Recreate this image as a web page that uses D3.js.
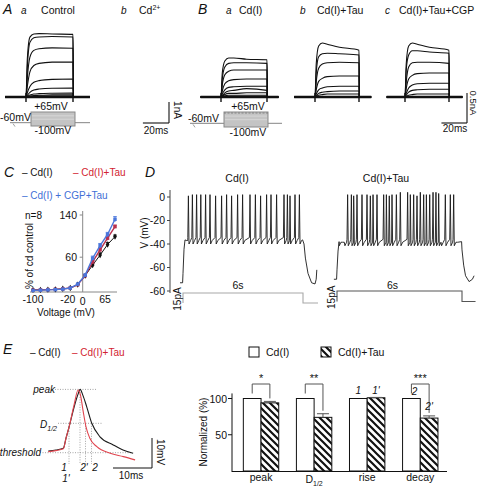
<!DOCTYPE html>
<html><head><meta charset="utf-8">
<script src="https://cdn.jsdelivr.net/npm/d3@7"></script>
<style>body{margin:0;background:#fff}svg{display:block}</style>
</head><body><svg id="fig" width="480" height="487"></svg>
<script>
// ================= DATA =================
// A/B: voltage-clamp current traces (nA), sampled at these times (ms) within the 36 ms step
const stepTimes = [0, 1, 3, 6, 10, 20, 36];
const stepEnd = 36;
const tracesA = [
  [0, 1.8, 2.85, 3.0, 3.02, 3.0, 2.98],
  [0, 1.4, 2.6, 2.82, 2.86, 2.88, 2.86],
  [0, 0.9, 1.9, 2.22, 2.3, 2.34, 2.32],
  [0, 0.5, 1.2, 1.5, 1.6, 1.66, 1.67],
  [0, 0.2, 0.5, 0.7, 0.78, 0.84, 0.86],
  [0, 0.08, 0.22, 0.33, 0.38, 0.42, 0.43],
  [0, 0.03, 0.09, 0.14, 0.16, 0.18, 0.19],
  [0, 0.01, 0.04, 0.07, 0.08, 0.1, 0.1],
  [0, 0, 0.02, 0.03, 0.04, 0.05, 0.05]
];
const tracesBa = [
  [0, 0.4, 0.6, 0.65, 0.65, 0.63, 0.62],
  [0, 0.3, 0.5, 0.56, 0.57, 0.57, 0.56],
  [0, 0.2, 0.37, 0.43, 0.45, 0.45, 0.45],
  [0, 0.1, 0.22, 0.27, 0.29, 0.3, 0.3],
  [0, 0.05, 0.12, 0.16, 0.17, 0.18, 0.18],
  [0, 0.02, 0.07, 0.1, 0.11, 0.14, 0.11],
  [0, 0.01, 0.04, 0.06, 0.06, 0.07, 0.07],
  [0, 0, 0.02, 0.03, 0.03, 0.03, 0.03]
];
const tracesBb = [
  [0, 0.55, 0.85, 0.9, 0.88, 0.83, 0.78],
  [0, 0.4, 0.67, 0.72, 0.73, 0.72, 0.7],
  [0, 0.25, 0.48, 0.55, 0.57, 0.58, 0.57],
  [0, 0.12, 0.26, 0.31, 0.34, 0.35, 0.35],
  [0, 0.05, 0.12, 0.15, 0.17, 0.18, 0.18],
  [0, 0.02, 0.06, 0.08, 0.09, 0.1, 0.1],
  [0, 0.01, 0.03, 0.04, 0.05, 0.05, 0.05]
];
const tracesBc = [
  [0, 0.55, 0.85, 0.9, 0.88, 0.83, 0.78],
  [0, 0.45, 0.7, 0.77, 0.77, 0.75, 0.73],
  [0, 0.25, 0.5, 0.57, 0.58, 0.58, 0.56],
  [0, 0.14, 0.3, 0.36, 0.39, 0.4, 0.4],
  [0, 0.06, 0.15, 0.2, 0.22, 0.23, 0.23],
  [0, 0.03, 0.08, 0.11, 0.12, 0.13, 0.13],
  [0, 0.01, 0.03, 0.04, 0.05, 0.05, 0.05]
];
const protoLevels = [-100, 65];   // mV step range
const protoHold = -60;            // mV holding

// C: I-V relation (% of cd control)
const ivVoltage = [-100, -85, -70, -55, -40, -25, -10, 5, 20, 35, 50, 65];
const ivCd  = [-2, -2, -1.5, -1, 0, 1.5, 8, 25, 45, 64, 84, 99];
const ivTau = [-2.5, -2, -1.5, -1, 0, 1.5, 8, 25, 51, 74, 96, 118];
const ivCgp = [-3, -2.5, -2, -1.5, -0.5, 1.5, 9, 26, 58, 82, 103, 132];
const ivErrCd  = [0, 0, 0, 0, 0, 0, 1, 2, 4, 4, 4, 3];
const ivErrTau = [0, 0, 0, 0, 0, 0, 1, 2, 3, 4, 4, 3];
const ivErrCgp = [0, 0, 0, 0, 0, 0, 1, 2, 4, 4, 4, 5];
const ivYTicks = [60, 140];
const ivXTicks = [-100, -20, 0, 65];

// D: firing during 6 s, 15 pA step
const spikeTimesCd = [0.05,0.13,0.27,0.47,0.68,0.89,1.13,1.35,1.63,1.93,2.18,2.43,2.73,2.98,3.35,3.62,3.88,4.18,4.40,4.68,5.05,5.22,5.35,5.60,5.82];
const spikePeaksCd = [0,0,1,2,2,2,2,2,1,1,2,1,2,2,2,2,1,2,2,2,2,2,1,2,2];
const spikeTimesTau = [0.08,0.16,0.24,0.35,0.51,0.69,0.80,0.96,1.20,1.44,1.60,1.73,1.92,2.24,2.37,2.51,2.64,2.85,3.04,3.39,3.52,3.68,3.84,4.00,4.16,4.29,4.45,4.61,4.75,4.88,4.99,5.20,5.44,5.60,5.68];
const spikePeaksTau = [2,2,2,1,2,2,1,2,2,2,1,2,2,2,2,1,2,2,4,4,2,2,1,4,2,2,2,4,4,3,2,2,2,2,2];
const restCd = -73, plateauCd = -36.5;
const restTau = -70, plateauTau = -38;
const endCd  = [[6.05,-40],[6.12,-52],[6.25,-65],[6.43,-73],[6.6,-74],[6.66,-70],[6.69,-62]];
const endTau = [[6.0,-45],[6.08,-58],[6.17,-67],[6.34,-72],[6.5,-70],[6.58,-67]];
const dYTicks = [0, -20, -40, -60, -80];
const dYTickLabels = ["0", "-20", "-40", "-60", "-60"];   // as printed in the source figure

// E left: averaged action potentials (ms, mV above threshold)
const apCd  = [[0.85,0.57],[2.8,0.9],[4.7,1.5],[5.4,4.9],[6.2,8.7],[7.4,14.9],[8.5,19.6],[9.0,21.1],[9.7,19.2],[10.7,15.3],[12.0,9.8],[14.1,5.3],[17.5,2.6],[20.0,0.9],[22.6,-0.2]];
const apTau = [[0.8,0.3],[2.8,0.7],[4.7,1.3],[5.4,4.9],[6.2,8.7],[7.4,15.6],[8.5,20.9],[9.1,19.2],[9.8,13.7],[10.5,8.7],[11.5,4.8],[13.3,2.0],[16.7,-0.2],[20.1,-1.3],[23.1,-2.4]];

// E right: normalized parameters
const barCategories = ["peak", "D1/2", "rise", "decay"];
const barCd  = [100, 100, 100, 100];
const barTau = [94, 74, 101, 73];
const barTauErr = [2, 5, 0.5, 3];
const barSig = ["*", "**", "", "***"];
const barYTicks = [50, 100];

// ================= DRAWING =================
const FONT = '"Liberation Sans", Arial, Helvetica, sans-serif';
const svg = d3.select("#fig");
svg.append("rect").attr("width", 480).attr("height", 487).attr("fill", "#fff");

function txt(x, y, s, o = {}) {
  const t = svg.append("text").attr("x", x).attr("y", y)
    .style("font-family", FONT).style("font-size", (o.size || 10) + "px")
    .attr("fill", o.fill || "#111");
  if (s !== null) t.text(s);
  if (o.anchor) t.attr("text-anchor", o.anchor);
  if (o.italic) t.style("font-style", "italic");
  if (o.rotate != null) t.attr("transform", `rotate(${o.rotate},${x},${y})`);
  return t;
}
function seg(x1, y1, x2, y2, c = "#111", w = 1, dash = null) {
  const l = svg.append("line").attr("x1", x1).attr("y1", y1).attr("x2", x2).attr("y2", y2)
    .attr("stroke", c).attr("stroke-width", w);
  if (dash) l.attr("stroke-dasharray", dash);
  return l;
}

// ---------- A & B: current traces ----------
function drawTraces(traces, x, y, preT, postT) {
  const g = svg.append("g");
  const line = d3.line().x(d => x(d[0])).y(d => y(d[1])).curve(d3.curveMonotoneX);
  g.append("path").attr("d", line([[preT, 0], [postT, 0]]))
    .attr("stroke", "#111").attr("stroke-width", 2.4).attr("fill", "none");
  traces.forEach(vals => {
    const pts = [[preT, 0], [-0.3, 0]]
      .concat(stepTimes.map((t, i) => [t, vals[i]]))
      .concat([[stepEnd + 0.3, 0], [postT, 0]]);
    g.append("path").attr("d", line(pts)).attr("stroke", "#111")
      .attr("stroke-width", 1.1).attr("fill", "none");
  });
  [0, stepEnd].forEach(t => {
    seg(x(t), y(0) + 5, x(t), y(0) - 4, "#111", 1.4);
  });
}
const yA = d3.scaleLinear().domain([0, 3]).range([97, 34]);
const xA = d3.scaleLinear().domain([0, stepEnd]).range([26, 73]);
drawTraces(tracesA, xA, yA, -16, 49);

const yB = d3.scaleLinear().domain([0, 0.5]).range([97, 67]);
const xBa = d3.scaleLinear().domain([0, stepEnd]).range([221, 267]);
const xBb = d3.scaleLinear().domain([0, stepEnd]).range([315, 359]);
const xBc = d3.scaleLinear().domain([0, stepEnd]).range([405, 449]);
drawTraces(tracesBa, xBa, yB, -16, 45);
drawTraces(tracesBb, xBb, yB, -17, 46);
drawTraces(tracesBc, xBc, yB, -15, 47);

// voltage protocols
function drawProto(x0, x1, lineL, lineR, vy, dashedTop) {
  const yT = vy(protoLevels[1]), yBt = vy(protoLevels[0]), yH = vy(protoHold);
  seg(lineL, yH, x0, yH, "#999", 1.2);
  seg(x1, yH, lineR, yH, "#999", 1.2);
  svg.append("rect").attr("x", x0).attr("y", yT).attr("width", x1 - x0).attr("height", yBt - yT)
    .attr("fill", "#c4c4c4").attr("stroke", "#8a8a8a").attr("stroke-width", 1);
  [-20, 20].forEach(v => seg(x0 + 1, vy(v), x1 - 1, vy(v), "#dcdcdc", 0.8));
  if (dashedTop) seg(x0, yT + 1, x1, yT + 1, "#777", 0.8, "2,1.5");
  seg(lineL + 3, yH + 1, lineL + 5, yH + 4, "#888", 0.8);
}
const vyA = d3.scaleLinear().domain(protoLevels).range([126, 112]);
drawProto(31, 75, 10, 90, vyA, false);
const vyB = d3.scaleLinear().domain(protoLevels).range([127, 112]);
drawProto(224, 268, 190, 282, vyB, true);

// panel labels A/B
txt(3, 14, "A", {size: 14, italic: true});
txt(21, 14, "a", {size: 10, italic: true});
txt(58, 14, "Control", {size: 10.5, anchor: "middle"});
txt(121, 14, "b", {size: 10, italic: true});
const cdt = txt(139, 14, null, {size: 10.5});
cdt.append("tspan").text("Cd");
cdt.append("tspan").text("2+").attr("dy", -4).style("font-size", "7px");
txt(51, 110, "+65mV", {size: 10.5, anchor: "middle"});
txt(0, 121, "-60mV", {size: 10.5});
txt(53, 134, "-100mV", {size: 10.5, anchor: "middle"});

txt(198, 14, "B", {size: 14, italic: true});
txt(226, 14, "a", {size: 10, italic: true});
txt(239, 14, "Cd(I)", {size: 10.5});
txt(300, 14, "b", {size: 10, italic: true});
txt(317, 14, "Cd(I)+Tau", {size: 10.5});
txt(385, 14, "c", {size: 10, italic: true});
txt(399, 14, "Cd(I)+Tau+CGP", {size: 10.5});
txt(248, 110, "+65mV", {size: 10.5, anchor: "middle"});
txt(188, 122, "-60mV", {size: 10.5});
txt(248, 136, "-100mV", {size: 10.5, anchor: "middle"});

// scale bars
const sbA = 1, sbT = 20;
seg(169, 123, 169, 123 - (yA(0) - yA(sbA)), "#111", 1.1);
seg(169 - (xA(sbT) - xA(0)), 123, 169, 123, "#111", 1.1);
txt(174, 110, "1nA", {size: 10, anchor: "middle", rotate: 90});
txt(156, 134, "20ms", {size: 10, anchor: "middle"});
seg(467, 123, 467, 123 - (yB(0) - yB(0.5)), "#111", 1.1);
seg(467 - (xBa(sbT) - xBa(0)), 123, 467, 123, "#111", 1.1);
txt(469.5, 103, "0.5nA", {size: 9.5, anchor: "middle", rotate: 90});
txt(455, 132, "20ms", {size: 10, anchor: "middle"});

// ---------- C: I-V ----------
const xC = d3.scaleLinear().domain([-100, 65]).range([33, 115]);
const yC = d3.scaleLinear().domain([-6, 140]).range([292, 215]);
txt(4, 177, "C", {size: 14, italic: true});
txt(22, 176, "– Cd(I)", {size: 10});
txt(73, 176, "– Cd(I)+Tau", {size: 10, fill: "#d2232f"});
txt(22, 199, "– Cd(I) + CGP+Tau", {size: 10, fill: "#3f6fd6"});
seg(xC(0), 211, xC(0), 292, "#888", 1);
seg(30, 292, 117, 292, "#888", 1);
ivYTicks.forEach(v => {
  seg(xC(0) - 3, yC(v), xC(0), yC(v), "#888", 1);
  txt(77, yC(v) + 4, String(v), {size: 10.5, anchor: "end"});
});
const xTickShift = {"-100": 0, "-20": -5, "0": 0, "65": -10};
ivXTicks.forEach(v => {
  txt(xC(v) + xTickShift[v], v === 0 ? 304.5 : 302.5, String(v), {size: 10.5, anchor: "middle"});
});
txt(66, 315.5, "Voltage (mV)", {size: 10, anchor: "middle"});
txt(33, 256, "% of cd control", {size: 10, anchor: "middle", rotate: -90});
txt(25, 219, "n=8", {size: 10});
function drawIV(vals, errs, color, shape, w) {
  const pts = ivVoltage.map((v, i) => [v, vals[i], errs[i]]);
  svg.append("path").attr("d", d3.line().x(d => xC(d[0])).y(d => yC(d[1]))(pts))
    .attr("stroke", color).attr("stroke-width", w).attr("fill", "none");
  pts.forEach(d => {
    if (d[2] > 0) {
      seg(xC(d[0]), yC(d[1] - d[2]), xC(d[0]), yC(d[1] + d[2]), color, 0.9);
      seg(xC(d[0]) - 1.8, yC(d[1] + d[2]), xC(d[0]) + 1.8, yC(d[1] + d[2]), color, 0.9);
    }
    svg.append("path").attr("d", d3.symbol().type(shape).size(12)())
      .attr("transform", `translate(${xC(d[0])},${yC(d[1])})`).attr("fill", color);
  });
}
drawIV(ivCd, ivErrCd, "#111", d3.symbolDiamond, 1);
drawIV(ivTau, ivErrTau, "#b8304e", d3.symbolSquare, 1.4);
drawIV(ivCgp, ivErrCgp, "#4a76dc", d3.symbolSquare, 1.4);

// ---------- D: spike trains ----------
const yD = d3.scaleLinear().domain([-80, 0]).range([291, 197]);
txt(145, 177, "D", {size: 14, italic: true});
seg(170, 190, 170, 293, "#444", 1);
dYTicks.forEach((v, i) => {
  const yy = yD(v);
  seg(167, yy, 170, yy, "#444", 1);
  txt(165, yy + 3.5, dYTickLabels[i], {size: 10.5, anchor: "end"});
});
txt(148, 233, "V (mV)", {size: 10, anchor: "middle", rotate: -90});

function spikeTrain(times, peaks, rest, plateau, ends) {
  const pts = [[-0.15, rest], [-0.02, rest], [0.0, rest + 8], [0.05, plateau - 8], [0.1, plateau]];
  times.forEach((s, i) => {
    const cand = [[s - 0.03, plateau + 2], [s, peaks[i]], [s + 0.03, plateau - 3.5], [s + 0.11, plateau - 0.5]];
    cand.forEach(p => { if (p[0] > pts[pts.length - 1][0]) pts.push(p); });
  });
  pts.push([5.98, plateau]);
  return pts.concat(ends);
}
function drawD(times, peaks, rest, plateau, ends, x0, x1, title, titleX, protY0, protY1, protEnd, protColor, pALabelX, sLabel) {
  const x = d3.scaleLinear().domain([0, 6]).range([x0, x1]);
  const pts = spikeTrain(times, peaks, rest, plateau, ends);
  svg.append("path").attr("d", d3.line().x(d => x(d[0])).y(d => yD(d[1]))(pts))
    .attr("stroke", "#1a1a1a").attr("stroke-width", 0.9).attr("fill", "none");
  txt(titleX, 182, title, {size: 10.5, anchor: "middle"});
  const yc = d3.scaleLinear().domain([0, 15]).range([protY0, protY1]);
  const prot = [[0, 0], [0, 15], [6, 15], [6, 0], [protEnd, 0]];
  svg.append("path").attr("d", d3.line().x(d => x(d[0])).y(d => yc(d[1]))(prot))
    .attr("stroke", protColor).attr("stroke-width", 1.1).attr("fill", "none");
  txt(pALabelX, (protY0 + protY1) / 2 + 1, "15pA", {size: 10, anchor: "middle", rotate: -90});
  txt(x(3) - 5 + sLabel, 289, "6s", {size: 10.5, anchor: "middle"});
}
drawD(spikeTimesCd, spikePeaksCd, restCd, plateauCd, endCd, 183, 303, "Cd(I)", 237, 303, 293, 6.75, "#a8a8a8", 181, 0);
drawD(spikeTimesTau, spikePeaksTau, restTau, plateauTau, endTau, 337, 462, "Cd(I)+Tau", 386, 301.5, 291, 6.65, "#555", 335, -2);

// ---------- E left: AP waveform ----------
const xE = d3.scaleLinear().domain([0, 10]).range([45, 84]);
const yE = d3.scaleLinear().domain([0, 10]).range([452.7, 422.7]);
txt(3, 354, "E", {size: 14, italic: true});
txt(30, 356, "– Cd(I)", {size: 10});
txt(72, 356, "– Cd(I)+Tau", {size: 10, fill: "#d2232f"});
const dotC = "#9a9a9a", dotD = "1,1.5";
const peakY = yE(21.1), halfY = yE(9.8), thrY = yE(0);
seg(55, peakY, 97, peakY, dotC, 0.9, dotD);
seg(58, halfY, 102, halfY, dotC, 0.9, dotD);
seg(40, thrY, 132, thrY, dotC, 0.9, dotD);
[69, 85.5, 91.5].forEach(xx => seg(xx, halfY, xx, 464, dotC, 0.9, dotD));
seg(80, peakY, 80, 464, dotC, 0.9, dotD);
const apLine = d3.line().x(d => xE(d[0])).y(d => yE(d[1])).curve(d3.curveMonotoneX);
svg.append("path").attr("d", apLine(apCd)).attr("stroke", "#1a1a1a").attr("stroke-width", 1.1).attr("fill", "none");
svg.append("path").attr("d", apLine(apTau)).attr("stroke", "#e0454f").attr("stroke-width", 1.1).attr("fill", "none");
txt(55, 393, "peak", {size: 10, italic: true, anchor: "end"});
const d12 = txt(57, 428, null, {size: 10, italic: true, anchor: "end"});
d12.append("tspan").text("D");
d12.append("tspan").text("1/2").attr("dy", 3).style("font-size", "7px");
txt(41, 456, "threshold", {size: 10, italic: true, anchor: "end"});
txt(64, 471, "1", {size: 10, italic: true, anchor: "middle"});
txt(84, 471, "2'", {size: 10, italic: true, anchor: "middle"});
txt(95, 471, "2", {size: 10, italic: true, anchor: "middle"});
txt(66, 482, "1'", {size: 10, italic: true, anchor: "middle"});
seg(152, 468, 152, 468 - (yE(0) - yE(10)), "#111", 1);
seg(152 - (xE(10) - xE(0)), 468, 152, 468, "#111", 1);
txt(157, 452, "10mV", {size: 10, anchor: "middle", rotate: 90});
txt(131, 479, "10ms", {size: 10, anchor: "middle"});

// ---------- E right: bars ----------
const defs = svg.append("defs");
const pat = defs.append("pattern").attr("id", "hatch").attr("patternUnits", "userSpaceOnUse")
  .attr("width", 7).attr("height", 7);
pat.append("rect").attr("width", 7).attr("height", 7).attr("fill", "#fff");
pat.append("path").attr("d", "M-1,-1 L8,8 M-4.5,2.5 L1,8 M2.5,-4.5 L8,1")
  .attr("stroke", "#111").attr("stroke-width", 2.2);
const xBar = d3.scaleBand().domain(barCategories).range([234.5, 446.8]).padding(0);
const yBar = d3.scaleLinear().domain([0, 100]).range([471, 398.5]);
const bw = 17.7;
seg(232, yBar(107), 232, 472, "#111", 1);
seg(232, 471.5, 447, 471.5, "#111", 1);
barYTicks.forEach(v => {
  seg(228, yBar(v), 232, yBar(v), "#111", 1);
  txt(227, yBar(v) + 4, String(v), {size: 10.5, anchor: "end"});
});
txt(207, 432, "Normalized (%)", {size: 10, anchor: "middle", rotate: -90});
barCategories.forEach((c, i) => {
  const cx = xBar(c) + xBar.bandwidth() / 2;
  svg.append("rect").attr("x", cx - bw).attr("y", yBar(barCd[i])).attr("width", bw)
    .attr("height", yBar(0) - yBar(barCd[i])).attr("fill", "#fff").attr("stroke", "#111").attr("stroke-width", 1);
  svg.append("rect").attr("x", cx).attr("y", yBar(barTau[i])).attr("width", bw)
    .attr("height", yBar(0) - yBar(barTau[i])).attr("fill", "url(#hatch)").attr("stroke", "#111").attr("stroke-width", 1);
  const ex = cx + bw / 2, et = yBar(barTau[i] + barTauErr[i]);
  seg(ex, yBar(barTau[i]), ex, et, "#555", 1);
  seg(ex - 6, et, ex + 6, et, "#555", 1);
  if (barSig[i]) {
    const lx = cx - bw / 2, top = 384;
    svg.append("path").attr("d", `M${lx},${yBar(100) - 5}V${top}H${ex}V${et - 3}`)
      .attr("stroke", "#555").attr("stroke-width", 1).attr("fill", "none");
    txt(cx, 382, barSig[i], {size: 11, anchor: "middle"});
  }
  if (c === "D1/2") {
    const t = txt(cx, 483, null, {size: 10.5, anchor: "middle"});
    t.append("tspan").text("D");
    t.append("tspan").text("1/2").attr("dy", 3).style("font-size", "7px");
  } else {
    txt(cx, 481, c, {size: 10.5, anchor: "middle"});
  }
});
const cRise = xBar("rise") + xBar.bandwidth() / 2, cDec = xBar("decay") + xBar.bandwidth() / 2;
txt(cRise - bw / 2, 394, "1", {size: 10, italic: true, anchor: "middle"});
txt(cRise + bw / 2, 394, "1'", {size: 10, italic: true, anchor: "middle"});
txt(cDec - bw / 2 + 3, 395, "2", {size: 10, italic: true, anchor: "middle"});
txt(cDec + bw / 2, 410, "2'", {size: 10, italic: true, anchor: "middle"});
svg.append("rect").attr("x", 249).attr("y", 347).attr("width", 10).attr("height", 10)
  .attr("fill", "#fff").attr("stroke", "#111").attr("stroke-width", 1);
txt(266, 356, "Cd(I)", {size: 10.5});
svg.append("rect").attr("x", 321).attr("y", 347).attr("width", 10).attr("height", 10)
  .attr("fill", "url(#hatch)").attr("stroke", "#111").attr("stroke-width", 1);
txt(338, 356, "Cd(I)+Tau", {size: 10.5});
</script></body></html>
